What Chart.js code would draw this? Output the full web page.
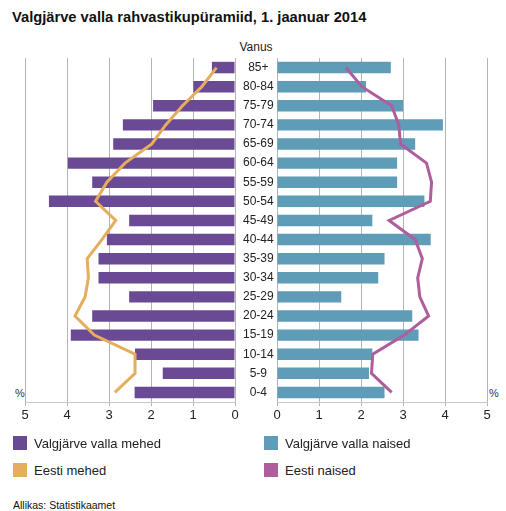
<!DOCTYPE html>
<html>
<head>
<meta charset="utf-8">
<script src="https://cdn.jsdelivr.net/npm/chart.js@4/dist/chart.umd.min.js"></script>
<style>
  html, body { margin: 0; padding: 0; background: #fff; }
  body { width: 506px; height: 511px; position: relative; overflow: hidden; font-family: "Liberation Sans", Arial, sans-serif; color: #222; }
  #title { position: absolute; left: 12px; top: 9px; font-size: 14.7px; font-weight: bold; color: #111; white-space: nowrap; }
  #vanus { position: absolute; left: 206px; width: 100px; text-align: center; top: 40px; font-size: 12px; color: #222; }
  .pct { position: absolute; top: 387px; font-size: 11px; color: #333; }
  canvas { position: absolute; left: 0; top: 0; }
  .leg { position: absolute; font-size: 13px; color: #222; white-space: nowrap; }
  .leg span.sw { display: inline-block; width: 14px; height: 14px; vertical-align: -2px; margin-right: 7px; }
  #src { position: absolute; left: 13px; top: 499px; font-size: 10.5px; color: #111; }
</style>
</head>
<body>
<div id="title">Valgjärve valla rahvastikupüramiid, 1. jaanuar 2014</div>
<div id="vanus">Vanus</div>
<div class="pct" style="left:15px">%</div>
<div class="pct" style="left:489px">%</div>
<canvas id="left" width="506" height="430"></canvas>
<canvas id="right" width="506" height="430"></canvas>
<div class="leg" style="left:13px; top:436px"><span class="sw" style="background:#6a4a94"></span>Valgjärve valla mehed</div>
<div class="leg" style="left:13px; top:463px"><span class="sw" style="background:#e5ad5c"></span>Eesti mehed</div>
<div class="leg" style="left:264px; top:436px"><span class="sw" style="background:#5e9cb8"></span>Valgjärve valla naised</div>
<div class="leg" style="left:264px; top:463px"><span class="sw" style="background:#ae5e9c"></span>Eesti naised</div>
<div id="src">Allikas: Statistikaamet</div>
<script>
const ageGroups = ["85+","80-84","75-79","70-74","65-69","60-64","55-59","50-54","45-49","40-44","35-39","30-34","25-29","20-24","15-19","10-14","5-9","0-4"];
const valgjarveMen   = [0.55,0.99,1.95,2.67,2.90,3.98,3.40,4.43,2.52,3.05,3.25,3.25,2.52,3.40,3.91,2.38,1.72,2.39];
const estoniaMen     = [0.44,0.79,1.25,1.65,1.98,2.62,3.05,3.32,2.84,3.17,3.52,3.49,3.57,3.81,3.35,2.38,2.38,2.86];
const valgjarveWomen = [2.71,2.12,3.00,3.95,3.29,2.86,2.86,3.51,2.27,3.66,2.56,2.41,1.53,3.22,3.37,2.27,2.19,2.56];
const estoniaWomen   = [1.64,2.02,2.73,2.90,2.94,3.56,3.68,3.65,2.67,3.29,3.46,3.35,3.40,3.61,3.03,2.28,2.25,2.73];
const xTicks = [0,1,2,3,4,5];

const gridColor = '#b4b4b4';
const font = { family: '"Liberation Sans", Arial, sans-serif', size: 13 };

function makeChart(id, side) {
  const isLeft = side === 'left';
  const barData = isLeft ? valgjarveMen : valgjarveWomen;
  const lineData = isLeft ? estoniaMen : estoniaWomen;
  return new Chart(document.getElementById(id), {
    type: 'bar',
    data: {
      labels: ageGroups,
      datasets: [
        { type: 'line', data: lineData, borderColor: isLeft ? '#e5ad5c' : '#ae5e9c', borderWidth: 3,
          pointRadius: 0, tension: 0, fill: false, order: 0 },
        { type: 'bar', data: barData, backgroundColor: isLeft ? '#6a4a94' : '#5e9cb8',
          barPercentage: 0.6, categoryPercentage: 1, order: 1 }
      ]
    },
    options: {
      indexAxis: 'y',
      responsive: false,
      animation: false,
      devicePixelRatio: 1,
      layout: { padding: isLeft ? { left: 25, right: 229, top: 58, bottom: 6 } : { left: 277, right: 19, top: 58, bottom: 6 } },
      plugins: { legend: { display: false }, tooltip: { enabled: false } },
      scales: {
        x: {
          type: 'linear', min: 0, max: 5, reverse: isLeft,
          afterBuildTicks: s => { s.ticks = xTicks.map(v => ({ value: v })); },
          grid: { color: gridColor, tickLength: 4, drawTicks: true },
          border: { color: '#c8c8c8' },
          ticks: { color: '#222', font: font, padding: 2, maxRotation: 0 },
          afterFit: s => { s.height = 22; }
        },
        y: {
          type: 'category',
          display: isLeft,
          position: 'right',
          grid: { display: false },
          border: { display: false },
          ticks: { color: '#222', font: { family: font.family, size: 12 }, crossAlign: 'center', padding: 0 },
          afterFit: s => { s.width = isLeft ? 42 : 0; }
        }
      }
    }
  });
}
makeChart('left', 'left');
makeChart('right', 'right');
</script>
</body>
</html>
